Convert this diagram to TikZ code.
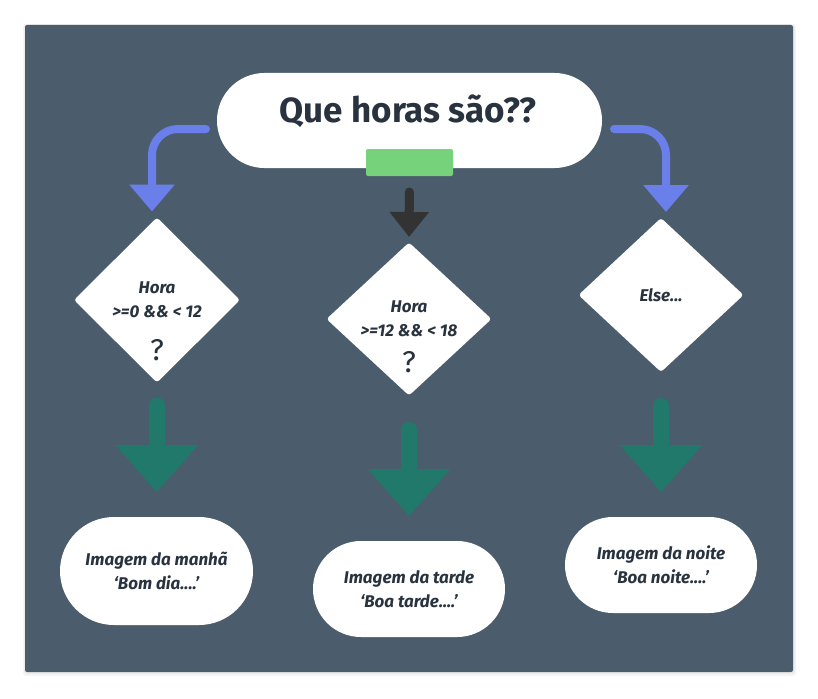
\documentclass[tikz,border=0pt]{standalone}
\usepackage{fontspec}
\setmainfont{Fira Sans}
\usetikzlibrary{shapes.geometric,arrows.meta}
\definecolor{bg}{HTML}{4B5D6C}
\definecolor{txt}{HTML}{29333F}
\definecolor{blu}{HTML}{6B7FEB}
\definecolor{grn}{HTML}{20796A}
\definecolor{lgrn}{HTML}{77D37B}
\definecolor{drk}{HTML}{333333}
\begin{document}
\begin{tikzpicture}[x=1pt,y=-1pt,
  pill/.style={fill=white, inner sep=0pt, outer sep=0pt, text=txt, align=center,
    font=\fontsize{17}{23.5}\selectfont\bfseries\itshape},
  dia/.style={diamond, fill=white, inner sep=0pt, outer sep=0pt, rounded corners=3pt,
    text=txt, align=center, font=\fontsize{17}{24}\selectfont\bfseries\itshape},
  qm/.style={text=txt, font=\fontsize{30}{32}\selectfont, inner sep=0pt},
  bluearrow/.style={draw=blu, line width=8pt, line cap=round, rounded corners=26pt,
    -{Triangle[width=44pt,length=27pt]}},
  darkarrow/.style={draw=drk, line width=9pt, line cap=round,
    -{Triangle[width=38pt,length=25pt]}},
  greenarrow/.style={draw=grn, line width=16pt, line cap=round,
    -{Triangle[width=80pt,length=47pt]}}]
\useasboundingbox (0,0) rectangle (818,698);
% frame with faint shadow
\fill[black, opacity=0.04, rounded corners=3pt] (23,24) rectangle (796,676);
\fill[black, opacity=0.04, rounded corners=3pt] (24,25) rectangle (795,674);
\fill[bg, rounded corners=2pt] (25,25) rectangle (793,672);
% title
\node[pill, rounded corners=47.5pt, minimum width=385pt, minimum height=95pt] (title) at (409.5,120.5) {};
\node[anchor=base, inner sep=0pt, text=txt, font=\fontsize{35}{40}\selectfont\bfseries] (titletext) at (408,122) {Que horas são??};
\node[fill=lgrn, minimum width=87pt, minimum height=27pt, rounded corners=2pt, inner sep=0pt, outer sep=0pt] (gr) at (409.5,162.5) {};
% diamonds
\node[dia, minimum width=166pt, minimum height=165pt] (d1) at (157,300) {Hora\\>=0 \&\& < 12};
\node[dia, minimum width=165pt, minimum height=153pt] (d2) at (409,319) {Hora\\>=12 \&\& < 18};
\node[dia, minimum width=165pt, minimum height=154pt] (d3) at (661,295) {Else...};
\node[qm] (q1) at (157,350) {?};
\node[qm] (q2) at (409,362) {?};
% result pills
\node[pill, rounded corners=54pt, minimum width=193pt, minimum height=108pt] (p1) at (156.5,571) {Imagem da manhã\\‘Bom dia....’};
\node[pill, rounded corners=48pt, minimum width=192pt, minimum height=96pt] (p2) at (409,589) {Imagem da tarde\\‘Boa tarde....’};
\node[pill, rounded corners=48pt, minimum width=192pt, minimum height=96pt] (p3) at (661,565) {Imagem da noite\\‘Boa noite....’};
% connectors
\draw[bluearrow, shorten >=6pt] ([shift={(-11,8.5)}]title.west) -| ([xshift=-5pt]d1.north);
\draw[bluearrow, shorten >=6pt] ([shift={(12,8.5)}]title.east) -| ([xshift=5pt]d3.north);
\draw[darkarrow, shorten <=16pt, shorten >=5.5pt] (gr.south) -- (d2.north);
\draw[greenarrow, shorten <=23pt, shorten >=25pt] (d1.south) -- (p1.north);
\draw[greenarrow, shorten <=34.5pt, shorten >=25pt] (d2.south) -- (p2.north);
\draw[greenarrow, shorten <=34pt, shorten >=25pt] (d3.south) -- (p3.north);
\end{tikzpicture}
\end{document}
